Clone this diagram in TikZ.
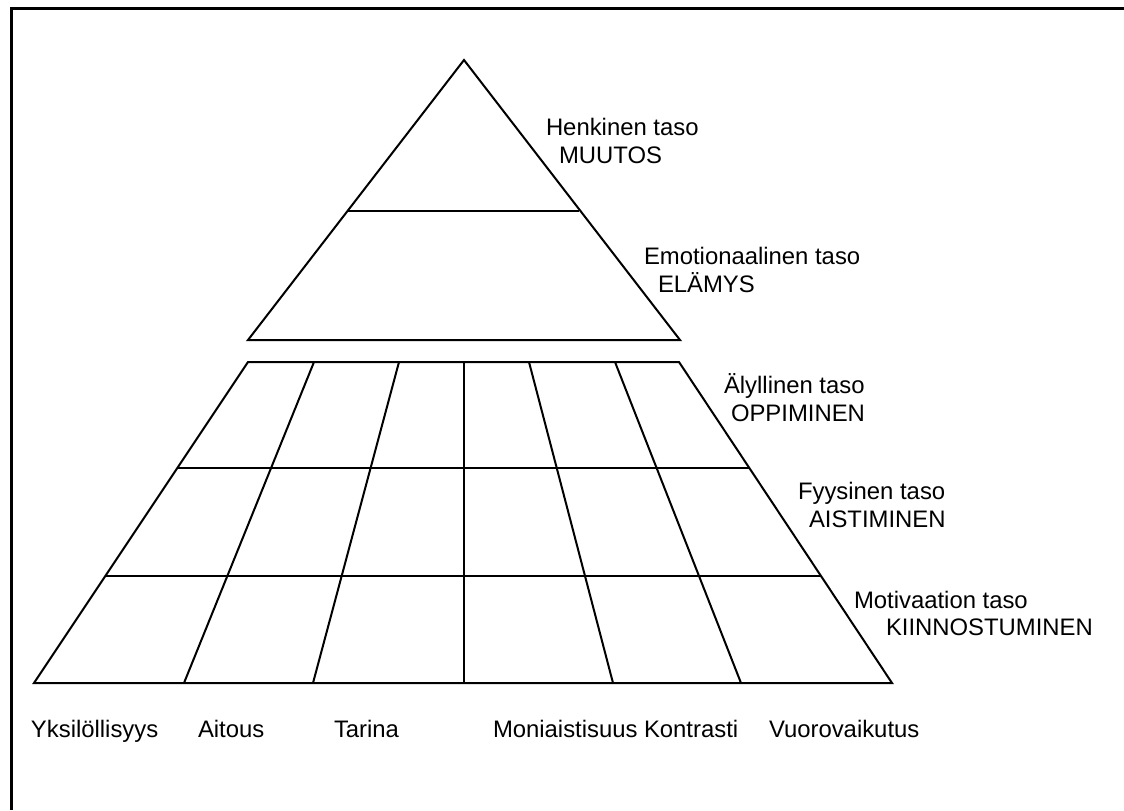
\documentclass[tikz,border=0pt]{standalone}
\usepackage{fontspec}
\setmainfont{Liberation Sans}

\begin{document}
\begin{tikzpicture}[x=0.75pt, y=-0.75pt, line width=1.5pt,
    lbl/.style={anchor=base west, inner sep=0pt, font=\fontsize{17.9}{21}\selectfont}]
     \useasboundingbox (0,0) rectangle (1124,810);
     \draw[line width=2.25pt] (11.5,810) -- (11.5,8.5) -- (1124,8.5);
     % top triangle
     \coordinate (apex) at (464,60);
     \coordinate (tl) at (248,340);
     \coordinate (tr) at (680,340);
     \draw (apex) -- (tr) -- (tl) -- cycle;
     \draw (348,211) -- (579,211);
     % lower part
     \coordinate (ul) at (248,362);
     \coordinate (ur) at (679,362);
     \coordinate (bl) at (34,683);
     \coordinate (br) at (892,683);
     \draw (ul) -- (ur) -- (br) -- (bl) -- cycle;
     \draw (177,468) -- (749,468);
     \draw (105,576) -- (821,576);
     \foreach \a/\b in {314/184, 399/313, 464/464, 529/613, 615/741}
       \draw (\a,362) -- (\b,683);
     % levels
     \foreach \x/\y/\t [count=\i] in {545/135/Henkinen taso, 558/163/MUUTOS,
         643/264/Emotionaalinen taso, 657/292/ELÄMYS,
         723/393/Älyllinen taso, 730/421/OPPIMINEN,
         797/499/Fyysinen taso, 808/527/AISTIMINEN,
         853/608/Motivaation taso, 885/635/KIINNOSTUMINEN}
       \node[lbl] (lev\i) at (\x,\y) {\t};
     % columns
     \foreach \x/\t [count=\i] in {30/Yksilöllisyys, 197/Aitous, 333/Tarina,
         492/Moniaistisuus, 643/Kontrasti, 768/Vuorovaikutus}
       \node[lbl] (col\i) at (\x,737) {\t};
\end{tikzpicture}
\end{document}
